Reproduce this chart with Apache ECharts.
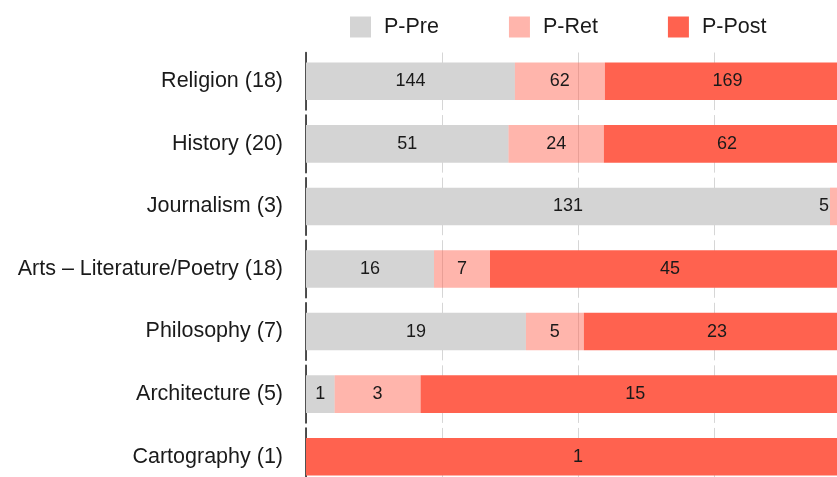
<!DOCTYPE html>
<html>
<head>
<meta charset="utf-8">
<script src="https://cdn.jsdelivr.net/npm/echarts@6/dist/echarts.min.js"></script>
<style>
  html, body { margin: 0; padding: 0; background: #fff; overflow: hidden; }
  /* the original is cropped on the right and bottom, so the chart is a bit bigger than the window */
  #chart { width: 850px; height: 488px; }
</style>
</head>
<body>
<div id="chart"></div>
<script>
const categories = ['Religion (18)', 'History (20)', 'Journalism (3)', 'Arts – Literature/Poetry (18)', 'Philosophy (7)', 'Architecture (5)', 'Cartography (1)'];
const seriesNames = ['P-Pre', 'P-Ret', 'P-Post'];
const pPre = [144, 51, 131, 16, 19, 1, 0];
const pRet = [62, 24, 5, 7, 5, 3, 0];
const pPost = [169, 62, 0, 45, 23, 15, 1];
const xTicks = [0, 25, 50, 75, 100];

const counts = [pPre, pRet, pPost];
const colors = ['#D4D4D4', 'rgba(255,98,79,0.47)', '#FF624F'];
const totals = categories.map((c, i) => pPre[i] + pRet[i] + pPost[i]);

const gridTop = 50;
const band = (488 - gridTop) / categories.length;
const dash = [band - 5, 5];
const dashOff = band - 5 + 2.5;

const font = '"Liberation Sans", Helvetica, Arial, sans-serif';

const series = seriesNames.map((name, s) => ({
  name: name,
  type: 'bar',
  stack: 'total',
  barCategoryGap: '40%',
  itemStyle: { color: colors[s] },
  label: {
    show: true,
    position: 'inside',
    color: '#1a1a1a',
    fontSize: 18,
    fontFamily: font,
    formatter: p => counts[s][p.dataIndex] ? String(counts[s][p.dataIndex]) : ''
  },
  data: counts[s].map((v, i) => {
    const item = { value: v / totals[i] * 100 };
    // the tiny Journalism P-Ret label is pulled back inside the picture
    if (s === 1 && i === 2) item.label = { offset: [-16, 0] };
    return item;
  })
}));

var myChart = echarts.init(document.getElementById('chart'));
myChart.setOption({
  animation: false,
  legend: {
    data: seriesNames,
    left: 345,
    top: 11,
    icon: 'rect',
    itemWidth: 21,
    itemHeight: 21,
    itemGap: 70,
    textStyle: { fontSize: 21.5, color: '#1a1a1a', fontFamily: font, padding: [0, 0, 0, 8] }
  },
  grid: { left: 306, right: 0, top: gridTop, bottom: 0 },
  xAxis: {
    type: 'value',
    min: xTicks[0],
    max: xTicks[xTicks.length - 1],
    interval: xTicks[1] - xTicks[0],
    axisLabel: { show: false },
    axisLine: { show: false },
    axisTick: { show: false },
    splitLine: { show: true, lineStyle: { color: '#D6D6D6', width: 1, type: dash, dashOffset: dashOff } }
  },
  yAxis: {
    type: 'category',
    inverse: true,
    data: categories,
    axisTick: { show: false },
    axisLine: { show: true, lineStyle: { color: '#1a1a1a', width: 1.5, type: dash, dashOffset: dashOff } },
    axisLabel: { fontSize: 21.5, color: '#1a1a1a', fontFamily: font, margin: 23 }
  },
  series: series
});
</script>
</body>
</html>
